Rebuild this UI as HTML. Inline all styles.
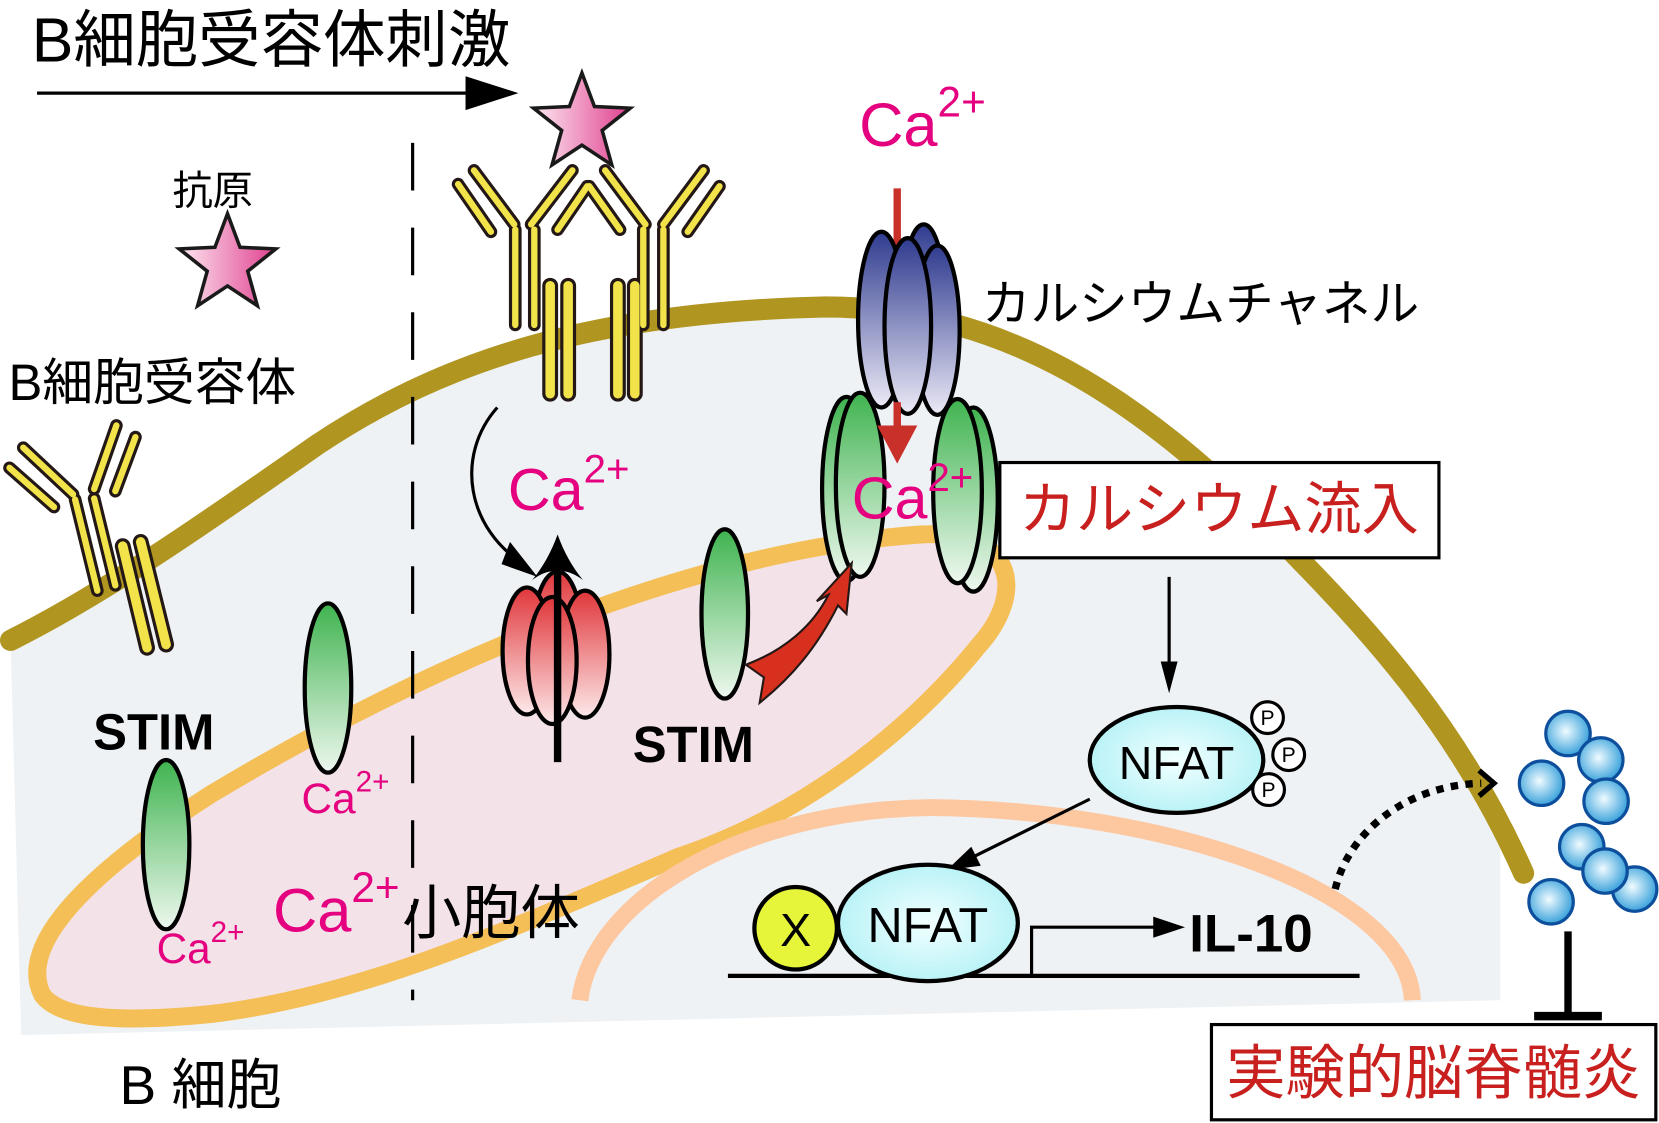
<!DOCTYPE html>
<html><head><meta charset="utf-8"><style>
html,body{margin:0;padding:0;background:#fff}
svg{display:block}
text{font-family:"Liberation Sans","Noto Sans CJK JP",sans-serif}
</style></head><body>
<svg width="1659" height="1123" viewBox="0 0 1568 1061" preserveAspectRatio="none" xmlns="http://www.w3.org/2000/svg">
<defs>
<linearGradient id="star" x1="0" y1="0" x2="1" y2="0"><stop offset="0" stop-color="#fde8f1"/><stop offset="1" stop-color="#e0408f"/></linearGradient>
<linearGradient id="grn" x1="0" y1="0" x2="0" y2="1"><stop offset="0" stop-color="#3fb34f"/><stop offset="1" stop-color="#eef8ef"/></linearGradient>
<linearGradient id="blu" x1="0" y1="0" x2="0" y2="1"><stop offset="0" stop-color="#2f3b8f"/><stop offset="1" stop-color="#eceaf6"/></linearGradient>
<linearGradient id="red" x1="0" y1="0" x2="0" y2="1"><stop offset="0" stop-color="#e0363a"/><stop offset="1" stop-color="#fde9ea"/></linearGradient>
<radialGradient id="cy" cx="0.5" cy="0.5" r="0.6"><stop offset="0" stop-color="#f2ffff"/><stop offset="1" stop-color="#aef0f5"/></radialGradient>
<radialGradient id="ball" cx="0.45" cy="0.45" r="0.6"><stop offset="0" stop-color="#f0fbff"/><stop offset="1" stop-color="#2a9ad8"/></radialGradient>
<path id="st" d="M0,-1 L0.247,-0.34 L0.951,-0.309 L0.399,0.13 L0.588,0.809 L0,0.42 L-0.588,0.809 L-0.399,0.13 L-0.951,-0.309 L-0.247,-0.34 Z"/>
</defs>

<path d="M10,605 C100,560 200,490 300,420 C420,340 560,295 780,290 C950,290 1080,380 1200,500 C1300,600 1370,680 1418,780 L1418,945 L20,978 Z" fill="#eef2f5"/>
<path d="M40,940 C20,900 60,840 200,750 C400,630 650,520 870,505 C960,500 970,560 925,610 C860,690 760,770 640,810 C500,870 350,940 200,958 C100,968 55,960 40,940 Z" fill="#f3e2e8" stroke="#f5bf58" stroke-width="17"/>
<path d="M548,945 C560,850 700,765 880,763 C1100,765 1330,840 1335,945" fill="none" stroke="#fdc7a0" stroke-width="16"/>
<path d="M10,605 C100,560 200,490 300,420 C420,340 560,295 780,290 C950,290 1080,380 1200,500 C1300,600 1380,690 1440,825" fill="none" stroke="#b09520" stroke-width="20" stroke-linecap="round"/>

<line x1="390" y1="135" x2="390" y2="945" stroke="#000" stroke-width="3" stroke-dasharray="45,35"/>

<text x="30" y="58" font-size="59">B細胞受容体刺激</text>
<line x1="35" y1="88" x2="445" y2="88" stroke="#000" stroke-width="3"/>
<polygon points="440,72 490,88 440,104" fill="#000"/>

<text x="163" y="193" font-size="38">抗原</text>
<use href="#st" transform="translate(215,250) scale(48)" fill="url(#star)" stroke="#1a1a1a" stroke-width="0.07"/>
<use href="#st" transform="translate(550,117) scale(48)" fill="url(#star)" stroke="#1a1a1a" stroke-width="0.07"/>
<text x="8" y="378" font-size="48">B細胞受容体</text>

<g stroke-linecap="round">
<g stroke="#231815" stroke-width="12">
<line x1="9" y1="442" x2="51" y2="479"/><line x1="22" y1="423" x2="69" y2="467"/>
<line x1="71" y1="472" x2="92" y2="558"/><line x1="89" y1="471" x2="109" y2="553"/>
<line x1="89" y1="462" x2="110" y2="402"/><line x1="109" y1="464" x2="128" y2="413"/>
<line x1="116" y1="516" x2="139" y2="612" stroke-width="15"/><line x1="133" y1="512" x2="157" y2="609" stroke-width="15"/>
</g>
<g stroke="#f2e34a" stroke-width="6">
<line x1="9" y1="442" x2="51" y2="479"/><line x1="22" y1="423" x2="69" y2="467"/>
<line x1="71" y1="472" x2="92" y2="558"/><line x1="89" y1="471" x2="109" y2="553"/>
<line x1="89" y1="462" x2="110" y2="402"/><line x1="109" y1="464" x2="128" y2="413"/>
<line x1="116" y1="516" x2="139" y2="612" stroke-width="9"/><line x1="133" y1="512" x2="157" y2="609" stroke-width="9"/>
</g>
</g>

<g stroke-linecap="round">
<g stroke="#231815" stroke-width="12">
<line x1="433" y1="174" x2="464" y2="219"/><line x1="448" y1="161" x2="486" y2="212"/>
<line x1="487" y1="217" x2="487" y2="307"/><line x1="505" y1="217" x2="505" y2="307"/>
<line x1="502" y1="212" x2="541" y2="161"/><line x1="527" y1="217" x2="555" y2="176"/>
<line x1="557" y1="176" x2="586" y2="217"/><line x1="572" y1="161" x2="610" y2="212"/>
<line x1="608" y1="217" x2="608" y2="307"/><line x1="627" y1="217" x2="627" y2="307"/>
<line x1="627" y1="212" x2="665" y2="161"/><line x1="650" y1="219" x2="680" y2="176"/>
<line x1="520" y1="270" x2="520" y2="372" stroke-width="15"/><line x1="537" y1="270" x2="537" y2="372" stroke-width="15"/>
<line x1="584" y1="270" x2="584" y2="372" stroke-width="15"/><line x1="600" y1="270" x2="600" y2="372" stroke-width="15"/>
</g>
<g stroke="#f2e34a" stroke-width="6">
<line x1="433" y1="174" x2="464" y2="219"/><line x1="448" y1="161" x2="486" y2="212"/>
<line x1="487" y1="217" x2="487" y2="307"/><line x1="505" y1="217" x2="505" y2="307"/>
<line x1="502" y1="212" x2="541" y2="161"/><line x1="527" y1="217" x2="555" y2="176"/>
<line x1="557" y1="176" x2="586" y2="217"/><line x1="572" y1="161" x2="610" y2="212"/>
<line x1="608" y1="217" x2="608" y2="307"/><line x1="627" y1="217" x2="627" y2="307"/>
<line x1="627" y1="212" x2="665" y2="161"/><line x1="650" y1="219" x2="680" y2="176"/>
<line x1="520" y1="270" x2="520" y2="372" stroke-width="9"/><line x1="537" y1="270" x2="537" y2="372" stroke-width="9"/>
<line x1="584" y1="270" x2="584" y2="372" stroke-width="9"/><line x1="600" y1="270" x2="600" y2="372" stroke-width="9"/>
</g>
</g>

<text x="812" y="138" font-size="58" fill="#e4007f">Ca<tspan font-size="40" dy="-28">2+</tspan></text>
<line x1="848" y1="178" x2="848" y2="405" stroke="#c9302a" stroke-width="7"/>
<text x="928" y="303" font-size="46">カルシウムチャネル</text>

<g stroke="#000" stroke-width="4" fill="url(#grn)">
<ellipse cx="800" cy="462" rx="23" ry="87"/><ellipse cx="920" cy="472" rx="23" ry="87"/>
<ellipse cx="813" cy="458" rx="23" ry="87"/><ellipse cx="905" cy="464" rx="23" ry="87"/>
</g>
<g stroke="#000" stroke-width="4" fill="url(#blu)">
<ellipse cx="873" cy="292" rx="21" ry="80"/>
<ellipse cx="833" cy="302" rx="22" ry="83"/><ellipse cx="886" cy="312" rx="21" ry="80"/>
<ellipse cx="858" cy="308" rx="22" ry="83"/>
</g>
<line x1="848" y1="380" x2="848" y2="405" stroke="#c9302a" stroke-width="7"/>
<polygon points="829,402 867,402 848,438" fill="#c9302a"/>
<text x="805" y="490" font-size="56" fill="#e4007f">Ca<tspan font-size="38" dy="-26">2+</tspan></text>

<rect x="945" y="437" width="415" height="90" fill="#fff" stroke="#000" stroke-width="3"/>
<text x="1152" y="500" font-size="54" fill="#c8201e" text-anchor="middle">カルシウム流入</text>

<g stroke="#000" stroke-width="4" fill="url(#red)">
<ellipse cx="527" cy="600" rx="23" ry="60"/>
<ellipse cx="498" cy="615" rx="23" ry="60"/><ellipse cx="553" cy="618" rx="23" ry="60"/>
<ellipse cx="522" cy="624" rx="23" ry="60"/>
</g>
<line x1="527" y1="720" x2="527" y2="530" stroke="#000" stroke-width="7"/>
<path d="M503,548 Q518,530 527,505 Q536,530 551,548 Q538,538 527,540 Q516,538 503,548 Z" fill="#000"/>
<path d="M470,385 C430,430 440,500 498,535" fill="none" stroke="#000" stroke-width="3"/>
<polygon points="482,512 508,545 474,533" fill="#000"/>
<text x="480" y="482" font-size="56" fill="#e4007f">Ca<tspan font-size="38" dy="-26">2+</tspan></text>

<g stroke="#000" stroke-width="4" fill="url(#grn)">
<ellipse cx="310" cy="650" rx="22" ry="80"/>
<ellipse cx="157" cy="798" rx="22" ry="80"/>
<ellipse cx="685" cy="580" rx="22" ry="80"/>
</g>
<path d="M705,628 C740,615 768,592 783,562 L772,568 L805,532 L800,580 L792,572 C772,612 748,640 718,664 L722,640 Z" fill="#d8301e" stroke="#231815" stroke-width="2"/>
<text x="88" y="708" font-size="48" font-weight="bold">STIM</text>
<text x="598" y="720" font-size="48" font-weight="bold">STIM</text>
<text x="285" y="768" font-size="40" fill="#e4007f">Ca<tspan font-size="28" dy="-20">2+</tspan></text>
<text x="148" y="910" font-size="40" fill="#e4007f">Ca<tspan font-size="28" dy="-20">2+</tspan></text>
<text x="258" y="880" font-size="58" fill="#e4007f">Ca<tspan font-size="40" dy="-28">2+</tspan></text>
<text x="380" y="882" font-size="56">小胞体</text>
<text x="113" y="1043" font-size="52">B 細胞</text>

<line x1="1105" y1="545" x2="1105" y2="630" stroke="#000" stroke-width="3"/>
<polygon points="1097,625 1113,625 1105,655" fill="#000"/>
<ellipse cx="1112" cy="718" rx="82" ry="50" fill="url(#cy)" stroke="#000" stroke-width="4"/>
<text x="1112" y="736" font-size="44" text-anchor="middle">NFAT</text>
<g fill="#fff" stroke="#000" stroke-width="3">
<circle cx="1198" cy="678" r="15"/><circle cx="1218" cy="713" r="15"/><circle cx="1199" cy="746" r="15"/>
</g>
<g font-size="20" text-anchor="middle">
<text x="1198" y="685">P</text><text x="1218" y="720">P</text><text x="1199" y="753">P</text>
</g>
<line x1="1030" y1="755" x2="915" y2="812" stroke="#000" stroke-width="3"/>
<polygon points="895,822 918,800 927,818" fill="#000"/>

<line x1="688" y1="922" x2="1285" y2="922" stroke="#000" stroke-width="4"/>
<circle cx="752" cy="877" r="39" fill="#e6f53a" stroke="#000" stroke-width="4"/>
<text x="752" y="894" font-size="44" text-anchor="middle">X</text>
<ellipse cx="877" cy="872" rx="85" ry="55" fill="url(#cy)" stroke="#000" stroke-width="4"/>
<text x="877" y="890" font-size="46" text-anchor="middle">NFAT</text>
<polyline points="975,922 975,876 1095,876" fill="none" stroke="#000" stroke-width="3"/>
<polygon points="1090,866 1120,876 1090,886" fill="#000"/>
<text x="1124" y="899" font-size="50" font-weight="bold">IL-10</text>

<path d="M1262,840 C1275,785 1330,742 1400,740" fill="none" stroke="#000" stroke-width="7" stroke-dasharray="7,7"/>
<polyline points="1398,728 1412,740 1398,752" fill="none" stroke="#000" stroke-width="5"/>

<g fill="url(#ball)" stroke="#0d4f9c" stroke-width="3">
<circle cx="1482" cy="693" r="21"/><circle cx="1513" cy="718" r="21"/><circle cx="1457" cy="740" r="21"/>
<circle cx="1518" cy="757" r="21"/><circle cx="1495" cy="800" r="21"/><circle cx="1545" cy="840" r="21"/>
<circle cx="1517" cy="823" r="21"/><circle cx="1466" cy="852" r="21"/>
</g>
<line x1="1482" y1="880" x2="1482" y2="958" stroke="#000" stroke-width="7"/>
<line x1="1450" y1="960" x2="1514" y2="960" stroke="#000" stroke-width="8"/>
<rect x="1145" y="968" width="420" height="90" fill="#fff" stroke="#000" stroke-width="3"/>
<text x="1355" y="1033" font-size="56" fill="#c8201e" text-anchor="middle">実験的脳脊髄炎</text>
</svg>
</body></html>
